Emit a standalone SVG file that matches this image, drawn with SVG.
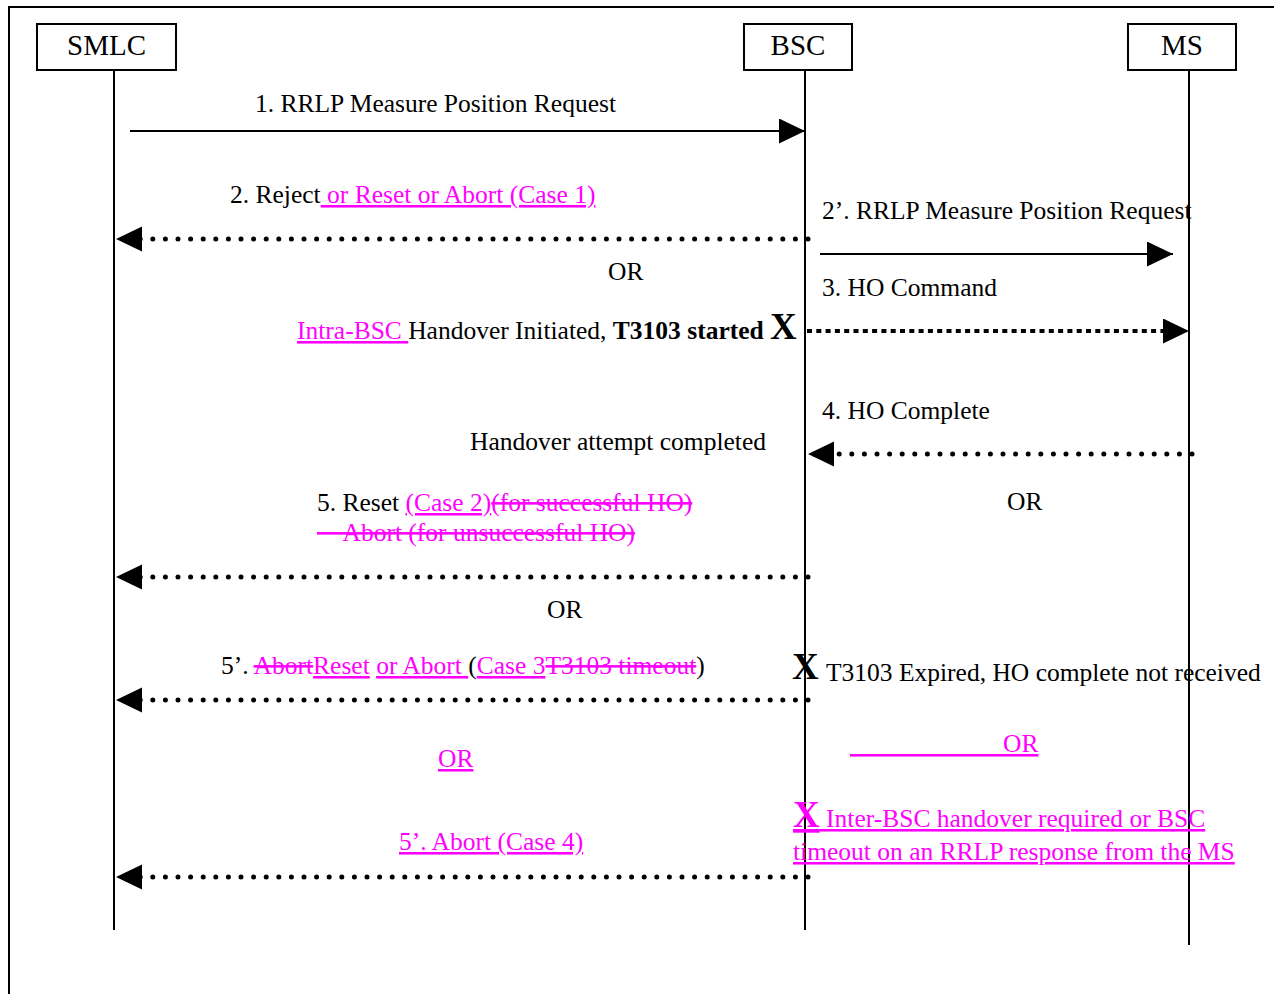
<svg xmlns="http://www.w3.org/2000/svg" width="1274" height="994" viewBox="0 0 1274 994">
<style>
.t{font-family:"Liberation Serif","Times New Roman",serif;font-size:25.5px;fill:#000}
.h{font-family:"Liberation Serif","Times New Roman",serif;font-size:29px;fill:#000}
.m{fill:#FF00FF}
.u{text-decoration:underline}
.s{text-decoration:line-through}
.b{font-weight:bold}
.x{font-weight:bold;font-size:37px}
.box{fill:#fff;stroke:#000;stroke-width:2}
.life{stroke:#000;stroke-width:2;fill:none}
.solid{stroke:#000;stroke-width:2;fill:none}
.dot{stroke:#000;stroke-width:5;stroke-dasharray:0 12.6;stroke-linecap:round;fill:none}
.sq{stroke:#000;stroke-width:4;stroke-dasharray:5 4.3;fill:none}
</style>
<defs>
<marker id="ah" markerUnits="userSpaceOnUse" markerWidth="28" markerHeight="27" refX="26" refY="12.5" orient="auto" viewBox="0 0 28 27"><path d="M0,0 L26,12.5 L0,25 Z" fill="#000"/></marker>
</defs>
<rect width="1274" height="994" fill="#fff"/>
<path d="M9,994 V7 H1274" fill="none" stroke="#000" stroke-width="2"/>
<g id="SMLC">
<line class="life" x1="114" y1="70" x2="114" y2="930"/>
<rect class="box" x="37" y="24" width="139" height="46"/>
<text class="h" x="106.5" y="55" text-anchor="middle">SMLC</text>
</g>
<g id="BSC">
<line class="life" x1="805" y1="70" x2="805" y2="930"/>
<rect class="box" x="744" y="24" width="108" height="46"/>
<text class="h" x="798" y="55" text-anchor="middle">BSC</text>
</g>
<g id="MS">
<line class="life" x1="1189" y1="70" x2="1189" y2="945"/>
<rect class="box" x="1128" y="24" width="108" height="46"/>
<text class="h" x="1182" y="55" text-anchor="middle">MS</text>
</g>
<g id="connectors">
<line class="solid" x1="130" y1="131" x2="805" y2="131" marker-end="url(#ah)"/>
<line class="dot" x1="808" y1="239" x2="116" y2="239" marker-end="url(#ah)"/>
<line class="solid" x1="820" y1="254" x2="1173" y2="254" marker-end="url(#ah)"/>
<line class="sq" x1="807" y1="331" x2="1189" y2="331" marker-end="url(#ah)"/>
<line class="dot" x1="1192" y1="454" x2="808" y2="454" marker-end="url(#ah)"/>
<line class="dot" x1="808" y1="577" x2="116" y2="577" marker-end="url(#ah)"/>
<line class="dot" x1="808" y1="700" x2="116" y2="700" marker-end="url(#ah)"/>
<line class="dot" x1="808" y1="877" x2="116" y2="877" marker-end="url(#ah)"/>
</g>
<g id="labels">
<text class="t" x="255" y="112">1. RRLP Measure Position Request</text>
<text class="t" x="230" y="203">2. Reject<tspan class="m u"> or Reset or Abort (Case 1)</tspan></text>
<text class="t" x="822" y="219">2’. RRLP Measure Position Request</text>
<text class="t" x="608" y="280">OR</text>
<text class="t" x="822" y="296">3. HO Command</text>
<text class="t" x="297" y="339"><tspan class="m u">Intra-BSC </tspan>Handover Initiated, <tspan class="b">T3103 started </tspan><tspan class="x">X</tspan></text>
<text class="t" x="822" y="419">4. HO Complete</text>
<text class="t" x="470" y="450">Handover attempt completed</text>
<text class="t" x="317" y="511">5. Reset <tspan class="m u">(Case 2)</tspan><tspan class="m s">(for successful HO)</tspan></text>
<text class="t m s" x="317" y="541">&#160;&#160;&#160;&#160;Abort (for unsuccessful HO)</text>
<text class="t" x="1007" y="510">OR</text>
<text class="t" x="547" y="618">OR</text>
<text class="t" x="221" y="674">5’. <tspan class="m s">Abort</tspan><tspan class="m u">Reset</tspan><tspan class="m"> </tspan><tspan class="m u">or Abort </tspan>(<tspan class="m u">Case 3</tspan><tspan class="m s">T3103 timeout</tspan>)</text>
<text class="t" x="792" y="679"><tspan class="x">X</tspan></text>
<text class="t" x="826" y="681">T3103 Expired, HO complete not received</text>
<text class="t m u" x="438" y="767">OR</text>
<text class="t m u" x="850" y="752">&#160;&#160;&#160;&#160;&#160;&#160;&#160;&#160;&#160;&#160;&#160;&#160;&#160;&#160;&#160;&#160;&#160;&#160;&#160;&#160;&#160;&#160;&#160;&#160;OR</text>
<text class="t m u" x="793" y="827"><tspan class="x">X</tspan> Inter-BSC handover required or BSC</text>
<text class="t m u" x="793" y="860">timeout on an RRLP response from the MS</text>
<text class="t m u" x="399" y="850">5’. Abort (Case 4)</text>
</g>
</svg>
